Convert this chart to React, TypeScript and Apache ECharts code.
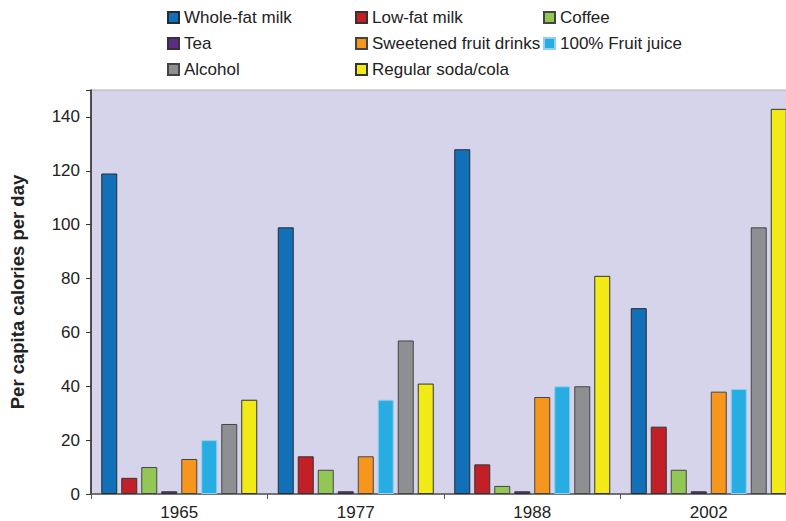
import React, { useEffect, useRef } from "react";
import * as echarts from "echarts";

const years = ["1965", "1977", "1988", "2002"];
const seriesNames = [
  "Whole-fat milk",
  "Low-fat milk",
  "Coffee",
  "Tea",
  "Sweetened fruit drinks",
  "100% Fruit juice",
  "Alcohol",
  "Regular soda/cola",
];
const wholeFatMilk = [119, 99, 128, 69];
const lowFatMilk = [6, 14, 11, 25];
const coffee = [10, 9, 3, 9];
const tea = [1, 1, 1, 1];
const sweetenedFruitDrinks = [13, 14, 36, 38];
const fruitJuice = [20, 35, 40, 39];
const alcohol = [26, 57, 40, 99];
const regularSoda = [35, 41, 81, 143];
const yTicks = [0, 20, 40, 60, 80, 100, 120, 140];

const seriesData = [
  wholeFatMilk,
  lowFatMilk,
  coffee,
  tea,
  sweetenedFruitDrinks,
  fruitJuice,
  alcohol,
  regularSoda,
];
const colors = [
  "#1170b8",
  "#c21f26",
  "#92c755",
  "#5b2d84",
  "#f7961d",
  "#27ade2",
  "#8e8f93",
  "#f2ea17",
];
const borders = ["#2a2a2a", "#333", "#444", "#333", "#444", "#8fd0ee", "#444", "#333"];

// legend layout: [left, top]
const legendPos = [
  [167, 9],
  [355, 9],
  [543, 9],
  [167, 35],
  [355, 35],
  [543, 35],
  [167, 61],
  [355, 61],
];

export default function App() {
  const ref = useRef<HTMLDivElement>(null);
  useEffect(() => {
    if (!ref.current) return;
    const chart = echarts.init(ref.current, null, { renderer: "svg" });
    const font = "'Liberation Sans', Arial, sans-serif";
    chart.setOption({
      animation: false,
      textStyle: { fontFamily: font },
      legend: seriesNames.map((n, i) => ({
        data: [n],
        left: legendPos[i][0],
        top: legendPos[i][1],
        icon: "rect",
        itemWidth: 11,
        itemHeight: 11,
        padding: 0,
        selectedMode: false,
        textStyle: { fontSize: 17, color: "#222", fontFamily: font, lineHeight: 17 },
      })),
      grid: {
        left: 91,
        top: 90,
        right: 23,
        bottom: 24,
        show: true,
        backgroundColor: "#d6d4ea",
        borderColor: "#b0b0b0",
        borderWidth: 1,
      },
      xAxis: {
        type: "category",
        data: years,
        axisLine: { show: true, lineStyle: { color: "#555", width: 1.5 } },
        axisTick: { show: true, length: 5, lineStyle: { color: "#555" } },
        axisLabel: { fontSize: 17, color: "#222", margin: 10, fontFamily: font },
      },
      yAxis: {
        type: "value",
        min: 0,
        max: 150,
        interval: 20,
        name: "Per capita calories per day",
        nameLocation: "middle",
        nameGap: 64,
        nameRotate: 90,
        nameTextStyle: { fontSize: 18.5, fontWeight: "bold", color: "#222", fontFamily: font },
        axisLine: { show: true, lineStyle: { color: "#222", width: 1.5 } },
        axisTick: { show: true, length: 5, lineStyle: { color: "#333" } },
        splitLine: { show: false },
        axisLabel: {
          fontSize: 17,
          color: "#222",
          margin: 11,
          fontFamily: font,
          formatter: (v: number) => (yTicks.includes(v) ? String(v) : ""),
        },
      },
      series: seriesNames.map((n, i) => ({
        name: n,
        type: "bar",
        data: seriesData[i],
        barWidth: 16,
        barGap: "25%",
        itemStyle: { color: colors[i], borderColor: borders[i], borderWidth: 1 },
      })),
    });
    return () => chart.dispose();
  }, []);
  return (
    <div
      ref={ref}
      style={{ position: "fixed", left: 0, top: 0, width: 820, height: 521, background: "#fff" }}
    />
  );
}
